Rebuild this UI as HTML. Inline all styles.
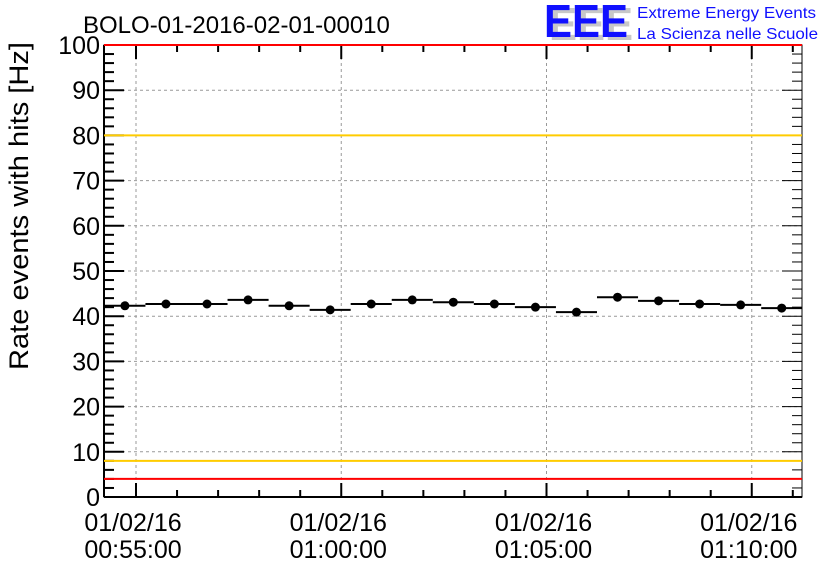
<!DOCTYPE html>
<html><head><meta charset="utf-8"><style>
body{margin:0;background:#fff;}
svg text{font-family:"Liberation Sans",sans-serif;}
</style></head><body>
<svg width="836" height="572" viewBox="0 0 836 572" xmlns="http://www.w3.org/2000/svg">
<rect width="836" height="572" fill="#fff"/>
<text x="83" y="33" font-size="24" fill="#000">BOLO-01-2016-02-01-00010</text>
<g>
<text x="549" y="40" font-size="46" font-weight="bold" fill="#c8c8c8" textLength="84" lengthAdjust="spacingAndGlyphs">EEE</text>
<text x="544" y="37" font-size="46" font-weight="bold" fill="#1010ff" textLength="84" lengthAdjust="spacingAndGlyphs">EEE</text>
<text x="637" y="18" font-size="16" fill="#1010ff" textLength="179" lengthAdjust="spacingAndGlyphs">Extreme Energy Events</text>
<text x="637" y="39" font-size="16" fill="#1010ff" textLength="181" lengthAdjust="spacingAndGlyphs">La Scienza nelle Scuole</text>
</g>
<text transform="translate(28,370) rotate(-90)" font-size="27" fill="#000" textLength="328" lengthAdjust="spacingAndGlyphs">Rate events with hits [Hz]</text>
<g id="grid"></g><g id="axes"></g><g id="marks"></g><g id="refs"></g>
</svg>
<script>
const yTicks=[0,10,20,30,40,50,60,70,80,90,100];
const xTickMinutes=[55,60,65,70];
const xTickLabels=["01/02/16\n00:55:00","01/02/16\n01:00:00","01/02/16\n01:05:00","01/02/16\n01:10:00"];
const binCenters=[54.73,55.73,56.73,57.73,58.73,59.73,60.73,61.73,62.73,63.73,64.73,65.73,66.73,67.73,68.73,69.73,70.73];
const rates=[42.3,42.7,42.7,43.6,42.3,41.4,42.7,43.6,43.1,42.7,42.0,40.9,44.2,43.4,42.7,42.5,41.8];
const refLines=[{v:100,c:"#ff0000"},{v:80,c:"#ffcc00"},{v:8,c:"#ffcc00"},{v:4,c:"#ff0000"}];
const L=104,R=802,T=45,B=497;
const ys=v=>B-(v/100)*(B-T);
const xs=m=>136+(m-55)*41.05;
const NS="http://www.w3.org/2000/svg";
function mk(p,t,a){const e=document.createElementNS(NS,t);for(const k in a)e.setAttribute(k,a[k]);p.appendChild(e);return e;}
const grid=document.getElementById('grid'),axes=document.getElementById('axes'),marks=document.getElementById('marks'),refs=document.getElementById('refs');
yTicks.forEach(v=>{if(v>0&&v<100){const l=mk(grid,'line',{x1:L,x2:R,y1:ys(v),y2:ys(v),stroke:'#999','stroke-dasharray':'3,3','stroke-width':1});

}});
xTickMinutes.forEach(m=>{const l=mk(grid,'line',{x1:xs(m),x2:xs(m),y1:T,y2:B,stroke:'#999','stroke-dasharray':'3,3','stroke-width':1});

});
refLines.forEach(r=>{const l=mk(refs,'line',{x1:L,x2:R,y1:ys(r.v),y2:ys(r.v),stroke:r.c,'stroke-width':2});

});
const frame=mk(axes,'rect',{x:L,y:T,width:R-L,height:B-T,fill:'none',stroke:'#000','stroke-width':1});


mk(axes,'line',{x1:L,x2:L,y1:T,y2:B,stroke:'#000','stroke-width':2});
mk(axes,'line',{x1:L,x2:R,y1:B,y2:B,stroke:'#000','stroke-width':2});
for(let v=0;v<=100;v+=2){const maj=v%10===0,len=maj?20:10;
mk(axes,'line',{x1:L,x2:L+len,y1:ys(v),y2:ys(v),stroke:'#000','stroke-width':2});
mk(axes,'line',{x1:R,x2:R-len,y1:ys(v),y2:ys(v),stroke:'#000','stroke-width':1});}
yTicks.forEach(v=>{const t=mk(axes,'text',{x:L-4,y:ys(v)+9,'font-size':25,'text-anchor':'end',fill:'#000'});t.textContent=v;

});
for(let m=55;xs(m)<R;m++){const maj=(m%5===0),len=maj?14:7;
mk(axes,'line',{x1:xs(m),x2:xs(m),y1:B,y2:B-len,stroke:'#000','stroke-width':2});
mk(axes,'line',{x1:xs(m),x2:xs(m),y1:T,y2:T+len,stroke:'#000','stroke-width':2});}
xTickMinutes.forEach((m,i)=>{const p=xTickLabels[i].split("\n");
[0,1].forEach(j=>{const t=mk(axes,'text',{x:xs(m)-3,y:531+j*27,'font-size':25,'text-anchor':'middle',fill:'#000'});t.textContent=p[j];

});});
binCenters.forEach((c,i)=>{const g=mk(marks,'g',{});


const y=ys(rates[i]);
mk(g,'line',{x1:Math.max(L,xs(c-0.5)),x2:Math.min(R,xs(c+0.5)),y1:y,y2:y,stroke:'#000','stroke-width':2});
mk(g,'circle',{cx:xs(c),cy:y,r:4.5,fill:'#000'});});
</script>
</body></html>
